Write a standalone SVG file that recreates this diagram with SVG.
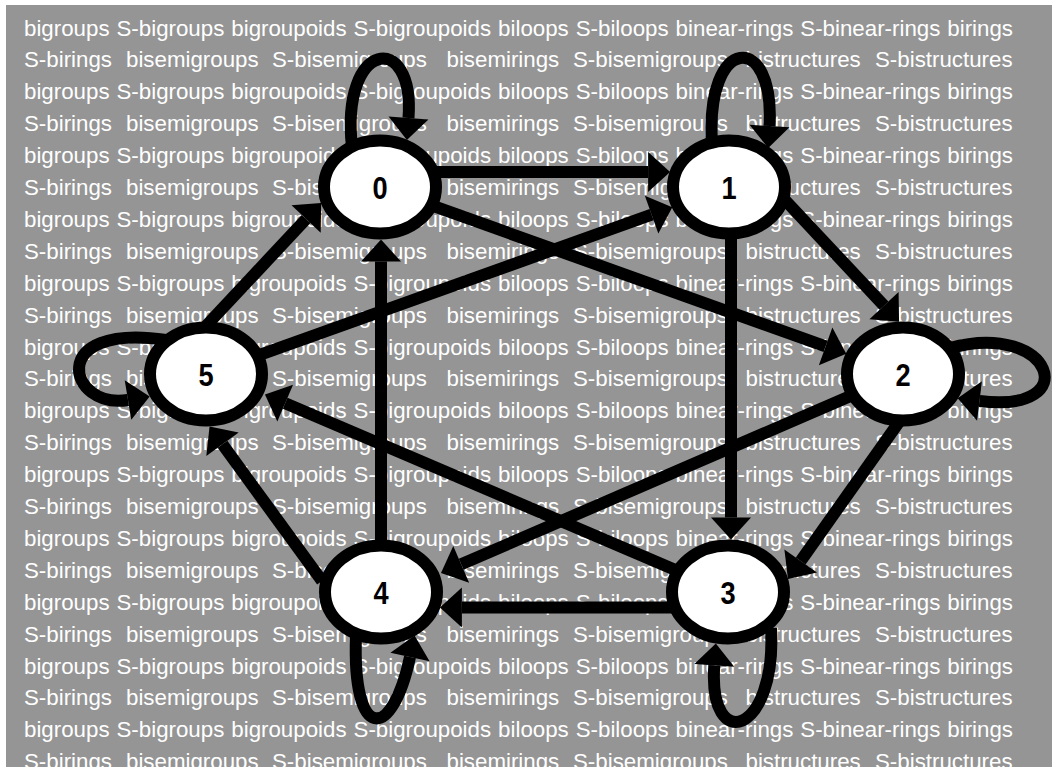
<svg xmlns="http://www.w3.org/2000/svg" width="1052" height="768" viewBox="0 0 1052 768">
<style>
.bg{fill:#959595}
.t{font-family:"Liberation Sans",Arial,sans-serif;font-size:22.3px;fill:#ffffff}
.o{word-spacing:0.77px}
.node ellipse{fill:#ffffff;stroke:#000000;stroke-width:12}
.node text{font-family:"Liberation Sans",Arial,sans-serif;font-weight:bold;font-size:32px;fill:#000000;text-anchor:middle}
.edge{fill:none;stroke:#000000;stroke-width:12;marker-end:url(#ah)}
</style>
<defs>
<marker id="ah" markerUnits="userSpaceOnUse" markerWidth="30" markerHeight="42" refX="0" refY="0" orient="auto" style="overflow:visible">
<path d="M0,-20 L22,0 L0,20 Z" fill="#000000"/>
</marker>
</defs>
<rect class="bg" x="6" y="5" width="1046" height="762"/>
<g id="background-text" class="t">
<text class="o" x="24" y="35.5">bigroups S-bigroups bigroupoids S-bigroupoids biloops S-biloops binear-rings S-binear-rings birings</text>
<text y="67.4"><tspan x="24">S-birings</tspan><tspan x="126">bisemigroups</tspan><tspan x="272">S-bisemigroups</tspan><tspan x="446.5">bisemirings</tspan><tspan x="573">S-bisemigroups</tspan><tspan x="745.5">bistructures</tspan><tspan x="875">S-bistructures</tspan></text>
<text class="o" x="24" y="99.3">bigroups S-bigroups bigroupoids S-bigroupoids biloops S-biloops binear-rings S-binear-rings birings</text>
<text y="131.2"><tspan x="24">S-birings</tspan><tspan x="126">bisemigroups</tspan><tspan x="272">S-bisemigroups</tspan><tspan x="446.5">bisemirings</tspan><tspan x="573">S-bisemigroups</tspan><tspan x="745.5">bistructures</tspan><tspan x="875">S-bistructures</tspan></text>
<text class="o" x="24" y="163.1">bigroups S-bigroups bigroupoids S-bigroupoids biloops S-biloops binear-rings S-binear-rings birings</text>
<text y="195"><tspan x="24">S-birings</tspan><tspan x="126">bisemigroups</tspan><tspan x="272">S-bisemigroups</tspan><tspan x="446.5">bisemirings</tspan><tspan x="573">S-bisemigroups</tspan><tspan x="745.5">bistructures</tspan><tspan x="875">S-bistructures</tspan></text>
<text class="o" x="24" y="226.9">bigroups S-bigroups bigroupoids S-bigroupoids biloops S-biloops binear-rings S-binear-rings birings</text>
<text y="258.8"><tspan x="24">S-birings</tspan><tspan x="126">bisemigroups</tspan><tspan x="272">S-bisemigroups</tspan><tspan x="446.5">bisemirings</tspan><tspan x="573">S-bisemigroups</tspan><tspan x="745.5">bistructures</tspan><tspan x="875">S-bistructures</tspan></text>
<text class="o" x="24" y="290.7">bigroups S-bigroups bigroupoids S-bigroupoids biloops S-biloops binear-rings S-binear-rings birings</text>
<text y="322.6"><tspan x="24">S-birings</tspan><tspan x="126">bisemigroups</tspan><tspan x="272">S-bisemigroups</tspan><tspan x="446.5">bisemirings</tspan><tspan x="573">S-bisemigroups</tspan><tspan x="745.5">bistructures</tspan><tspan x="875">S-bistructures</tspan></text>
<text class="o" x="24" y="354.5">bigroups S-bigroups bigroupoids S-bigroupoids biloops S-biloops binear-rings S-binear-rings birings</text>
<text y="386.4"><tspan x="24">S-birings</tspan><tspan x="126">bisemigroups</tspan><tspan x="272">S-bisemigroups</tspan><tspan x="446.5">bisemirings</tspan><tspan x="573">S-bisemigroups</tspan><tspan x="745.5">bistructures</tspan><tspan x="875">S-bistructures</tspan></text>
<text class="o" x="24" y="418.3">bigroups S-bigroups bigroupoids S-bigroupoids biloops S-biloops binear-rings S-binear-rings birings</text>
<text y="450.2"><tspan x="24">S-birings</tspan><tspan x="126">bisemigroups</tspan><tspan x="272">S-bisemigroups</tspan><tspan x="446.5">bisemirings</tspan><tspan x="573">S-bisemigroups</tspan><tspan x="745.5">bistructures</tspan><tspan x="875">S-bistructures</tspan></text>
<text class="o" x="24" y="482.1">bigroups S-bigroups bigroupoids S-bigroupoids biloops S-biloops binear-rings S-binear-rings birings</text>
<text y="514"><tspan x="24">S-birings</tspan><tspan x="126">bisemigroups</tspan><tspan x="272">S-bisemigroups</tspan><tspan x="446.5">bisemirings</tspan><tspan x="573">S-bisemigroups</tspan><tspan x="745.5">bistructures</tspan><tspan x="875">S-bistructures</tspan></text>
<text class="o" x="24" y="545.9">bigroups S-bigroups bigroupoids S-bigroupoids biloops S-biloops binear-rings S-binear-rings birings</text>
<text y="577.8"><tspan x="24">S-birings</tspan><tspan x="126">bisemigroups</tspan><tspan x="272">S-bisemigroups</tspan><tspan x="446.5">bisemirings</tspan><tspan x="573">S-bisemigroups</tspan><tspan x="745.5">bistructures</tspan><tspan x="875">S-bistructures</tspan></text>
<text class="o" x="24" y="609.7">bigroups S-bigroups bigroupoids S-bigroupoids biloops S-biloops binear-rings S-binear-rings birings</text>
<text y="641.6"><tspan x="24">S-birings</tspan><tspan x="126">bisemigroups</tspan><tspan x="272">S-bisemigroups</tspan><tspan x="446.5">bisemirings</tspan><tspan x="573">S-bisemigroups</tspan><tspan x="745.5">bistructures</tspan><tspan x="875">S-bistructures</tspan></text>
<text class="o" x="24" y="673.5">bigroups S-bigroups bigroupoids S-bigroupoids biloops S-biloops binear-rings S-binear-rings birings</text>
<text y="705.4"><tspan x="24">S-birings</tspan><tspan x="126">bisemigroups</tspan><tspan x="272">S-bisemigroups</tspan><tspan x="446.5">bisemirings</tspan><tspan x="573">S-bisemigroups</tspan><tspan x="745.5">bistructures</tspan><tspan x="875">S-bistructures</tspan></text>
<text class="o" x="24" y="737.3">bigroups S-bigroups bigroupoids S-bigroupoids biloops S-biloops binear-rings S-binear-rings birings</text>
<text y="769.2"><tspan x="24">S-birings</tspan><tspan x="126">bisemigroups</tspan><tspan x="272">S-bisemigroups</tspan><tspan x="446.5">bisemirings</tspan><tspan x="573">S-bisemigroups</tspan><tspan x="745.5">bistructures</tspan><tspan x="875">S-bistructures</tspan></text>
</g>
<g id="node0" class="node"><ellipse cx="380" cy="187" rx="56" ry="46.5"/><text transform="translate(380,198.5) scale(0.85,1)">0</text></g>
<g id="node1" class="node"><ellipse cx="729" cy="187" rx="56" ry="46.5"/><text transform="translate(729,198.5) scale(0.85,1)">1</text></g>
<g id="node2" class="node"><ellipse cx="903" cy="374" rx="56" ry="46.5"/><text transform="translate(903,385.5) scale(0.85,1)">2</text></g>
<g id="node3" class="node"><ellipse cx="728" cy="592" rx="56" ry="46.5"/><text transform="translate(728,603.5) scale(0.85,1)">3</text></g>
<g id="node4" class="node"><ellipse cx="381" cy="592" rx="56" ry="46.5"/><text transform="translate(381,603.5) scale(0.85,1)">4</text></g>
<g id="node5" class="node"><ellipse cx="206" cy="374" rx="56" ry="46.5"/><text transform="translate(206,385.5) scale(0.85,1)">5</text></g>
<g id="connectors">
<path id="e00" class="edge" d="M352,147 C340,40 415,30 408.5,118"/>
<path id="e11" class="edge" d="M712,143 C705,35 775,30 769.5,126"/>
<path id="e22" class="edge" d="M950,348 C1052,320 1086,414 979.5,401"/>
<path id="e55" class="edge" d="M166,340 C45,322 68,410 128,400"/>
<path id="e33" class="edge" d="M771,628 C777,735 708,755 714.3,665.4"/>
<path id="e44" class="edge" d="M356,636 C352,742 392,742 410,657"/>
<path id="e01" class="edge" d="M434,172 L648.1,172"/>
<path id="e34" class="edge" d="M674,607.5 L461.9,607.5"/>
<path id="e13" class="edge" d="M731,234 L731,517.6"/>
<path id="e40" class="edge" d="M381,545 L381,261.5"/>
<path id="e02" class="edge" d="M432.3,205.7 L825.6,346.3"/>
<path id="e51" class="edge" d="M258.3,355.3 L651.6,214.7"/>
<path id="e24" class="edge" d="M852.2,395.2 L461.2,564.3"/>
<path id="e35" class="edge" d="M677.2,570.8 L285.2,403.2"/>
<path id="e50" class="edge" d="M205,327 L306.1,219"/>
<path id="e12" class="edge" d="M785,200 L884,305.7"/>
<path id="e23" class="edge" d="M899,422 L800.7,561"/>
<path id="e45" class="edge" d="M322,581 L222.5,444.3"/>
</g>
</svg>
